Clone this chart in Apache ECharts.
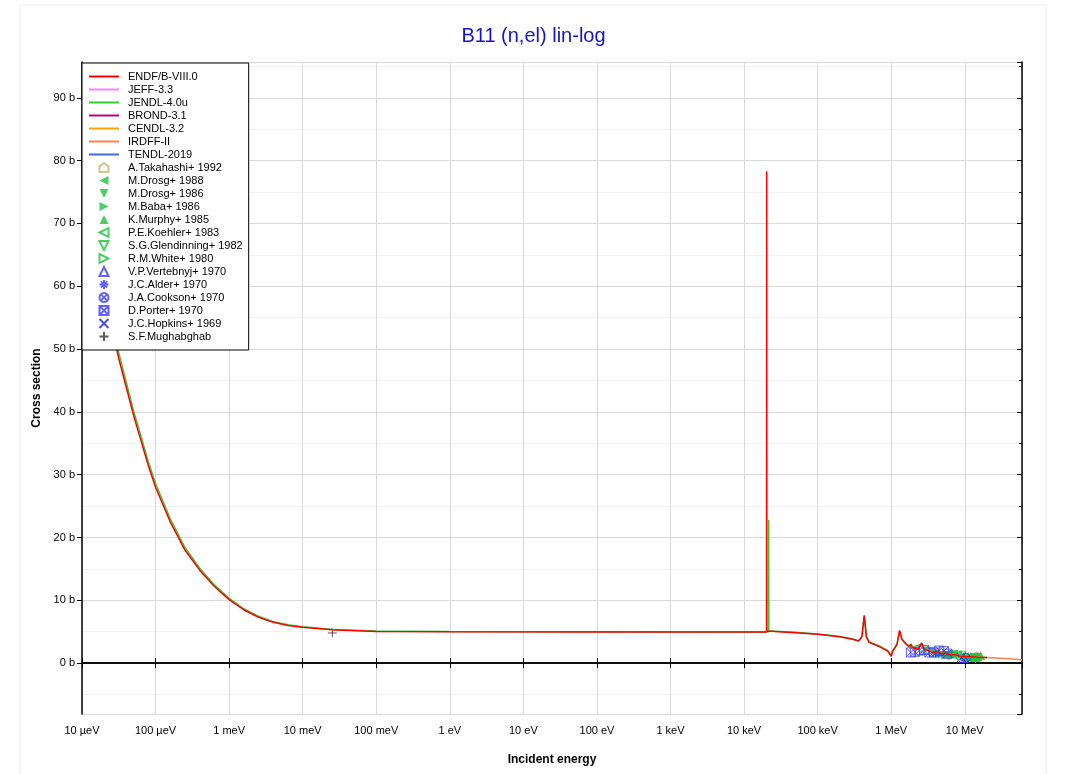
<!DOCTYPE html>
<html>
<head>
<meta charset="utf-8">
<script src="https://cdn.jsdelivr.net/npm/echarts@6/dist/echarts.min.js"></script>
<style>
	html, body { margin: 0; padding: 0; background: #fff; }
	#xs { width: 1067px; height: 774px; }
</style>
</head>
<body>
<div id="xs"></div>
<script>
// x tick labels, one per decade from 1e-5 eV
var xTickLabels = ['10 µeV', '100 µeV', '1 meV', '10 meV', '100 meV', '1 eV', '10 eV', '100 eV', '1 keV', '10 keV', '100 keV', '1 MeV', '10 MeV'];

// evaluated libraries (energy in eV, cross section in b)
var endfE = [1e-5, 1.26e-5, 1.58e-5, 2.0e-5, 2.51e-5, 3.16e-5, 3.98e-5, 5.01e-5, 6.31e-5, 7.94e-5, 1e-4, 1.58e-4, 2.51e-4, 3.98e-4, 6.31e-4, 1e-3, 1.58e-3, 2.51e-3, 3.98e-3, 6.31e-3, 0.01, 0.0251, 0.1, 1, 100, 1e4, 2.02e4, 2.03e4, 2.04e4, 2.1e4, 5e4, 1e5, 2e5, 3e5, 3.6e5, 4.0e5, 4.3e5, 4.6e5, 5e5, 7e5, 9e5, 1.0e6, 1.05e6, 1.2e6, 1.3e6, 1.4e6, 1.6e6, 1.75e6, 1.85e6, 2.0e6, 2.3e6, 2.6e6, 2.8e6, 3.2e6, 3.6e6, 4.2e6, 4.8e6, 5.5e6, 6.5e6, 7.5e6, 8.5e6, 1e7, 1.2e7, 1.5e7, 2e7];
var endfXS = [88, 77, 67, 60, 54, 48.5, 44, 39.5, 35.5, 31.5, 28, 22.5, 18, 14.8, 12.2, 10.1, 8.5, 7.3, 6.5, 6.0, 5.7, 5.3, 5.05, 4.98, 4.95, 4.95, 4.95, 78.3, 5.1, 5.1, 4.85, 4.6, 4.2, 3.8, 3.5, 4.2, 7.6, 4.2, 3.3, 2.6, 1.9, 1.1, 1.9, 3.0, 5.2, 3.8, 3.0, 2.6, 3.0, 2.4, 2.2, 3.2, 2.2, 2.0, 1.7, 1.9, 1.5, 1.6, 1.3, 1.35, 1.1, 1.0, 1.0, 0.95, 0.9];

var jendlE = [1e-5, 1.26e-5, 1.58e-5, 2.0e-5, 2.51e-5, 3.16e-5, 3.98e-5, 5.01e-5, 6.31e-5, 7.94e-5, 1e-4, 1.58e-4, 2.51e-4, 3.98e-4, 6.31e-4, 1e-3, 1.58e-3, 2.51e-3, 3.98e-3, 6.31e-3, 0.01, 0.0251, 0.1, 1, 100, 1e4, 2.15e4, 2.16e4, 2.17e4, 5e4, 1e5, 2e5, 3e5, 3.6e5, 4.0e5, 4.3e5, 4.6e5, 5e5, 7e5, 9e5, 1.0e6, 1.05e6, 1.2e6, 1.3e6, 1.4e6, 1.6e6, 2.0e6, 2.6e6, 3.2e6, 4.2e6, 5.5e6, 7.5e6, 1e7, 1.5e7, 2e7];
var jendlXS = [89.5, 78.5, 68.5, 61.2, 55, 49.4, 44.8, 40.2, 36.2, 32.1, 28.6, 23, 18.4, 15.1, 12.45, 10.3, 8.65, 7.45, 6.6, 6.1, 5.8, 5.35, 5.1, 5.02, 4.98, 4.97, 4.97, 22.8, 5.1, 4.9, 4.65, 4.25, 3.85, 3.55, 4.3, 7.5, 4.3, 3.4, 2.7, 2.0, 1.2, 2.0, 3.0, 5.0, 3.8, 3.0, 2.5, 3.1, 2.0, 1.8, 1.55, 1.3, 1.05, 0.95, 0.9];

var irdffE = [1e7, 1.5e7, 2e7, 3e7, 4e7, 6e7];
var irdffXS = [1.0, 0.95, 0.9, 0.78, 0.68, 0.55];

// libraries hidden under ENDF/B-VIII.0 in the picture
var jeffData = [];
var brondData = [];
var cendlData = [];
var tendlData = [];

// measurements [energy eV, cross section b]
var takahashi = [[1.42e7, 1.0], [1.47e7, 1.1]];
var drosg1988 = [[6e6, 1.4], [7e6, 1.2], [8e6, 1.3], [9e6, 1.1], [1e7, 1.0], [1.1e7, 0.95], [1.2e7, 0.9], [1.3e7, 0.95], [1.4e7, 0.85]];
var drosg1986 = [[6.1e6, 1.2], [7.1e6, 1.35], [1.4e7, 0.8]];
var baba1986 = [[4.5e6, 1.5], [5e6, 1.4], [5.5e6, 1.3], [6e6, 1.35], [6.5e6, 1.25]];
var murphy1985 = [[1e7, 0.9], [1.1e7, 0.95], [1.2e7, 1.05], [1.35e7, 0.9], [1.5e7, 1.0], [1.65e7, 1.2]];
var koehler1983 = [[2.9e6, 1.9], [3.2e6, 1.7]];
var glendinning1982 = [[8e6, 1.2], [9e6, 1.1], [1.4e7, 0.8]];
var white1980 = [[7e6, 1.3]];
var vertebnyj1970 = [[9.6e6, 0.8]];
var alder1970 = [[4.0e6, 1.6]];
var cookson1970 = [[1.04e7, 0.85]];
var porter1970 = [[1.85e6, 1.7], [2.1e6, 1.8], [2.4e6, 2.0], [2.8e6, 2.1], [3.3e6, 1.7], [3.8e6, 1.7], [4.5e6, 2.0], [5.2e6, 1.9], [5.8e6, 1.5]];
var hopkins1969 = [[9e6, 0.9]];
var mughabghab = [[0.0253, 4.8]];

function zip(e, v) {
	var out = [];
	for (var i = 0; i < e.length; i++) out.push([e[i], v[i]]);
	return out;
}

function libLine(name, color, data, z) {
	return {
		name: name,
		type: 'line',
		data: data,
		symbol: 'none',
		showSymbol: false,
		z: z,
		lineStyle: { color: color, width: 1.5 },
		itemStyle: { color: color }
	};
}

function points(name, symbol, color, hollow, data) {
	return {
		name: name,
		type: 'scatter',
		data: data,
		symbol: symbol,
		symbolSize: 9,
		z: 2,
		itemStyle: hollow
			? { color: 'transparent', borderColor: color, borderWidth: 1 }
			: { color: color }
	};
}

function crossSection() {
	var chartDom = document.getElementById('xs');
	var myChart = echarts.init(chartDom);
	var option;

	var green = '#1ec23c';
	var blue = '#3a3aff';

	var fontFamily = 'Liberation Sans, Arial, sans-serif';

	var libNames = ['ENDF/B-VIII.0', 'JEFF-3.3', 'JENDL-4.0u', 'BROND-3.1', 'CENDL-3.2', 'IRDFF-II', 'TENDL-2019'];
	var expNames = ['A.Takahashi+ 1992', 'M.Drosg+ 1988', 'M.Drosg+ 1986', 'M.Baba+ 1986', 'K.Murphy+ 1985',
		'P.E.Koehler+ 1983', 'S.G.Glendinning+ 1982', 'R.M.White+ 1980', 'V.P.Vertebnyj+ 1970',
		'J.C.Alder+ 1970', 'J.A.Cookson+ 1970', 'D.Porter+ 1970', 'J.C.Hopkins+ 1969', 'S.F.Mughabghab'];

	// line entries: hide the default circle drawn on the legend line
	var legendData = libNames.map(function (n) {
		return { name: n, itemStyle: { opacity: 0 } };
	}).concat(expNames);

	option = {
		animation: false,
		backgroundColor: '#fff',
		textStyle: { fontFamily: fontFamily },
		title: {
			text: 'B11 (n,el) lin-log',
			left: 'center',
			top: 21,
			textStyle: { color: '#1414c8', fontSize: 20, fontWeight: 'normal', fontFamily: fontFamily }
		},
		graphic: [{
			type: 'rect',
			shape: { x: 20, y: 5, width: 1026, height: 790 },
			style: { fill: 'none', stroke: '#ececec', lineWidth: 1 },
			z: -1
		}],
		grid: { left: 82, right: 45, top: 62, bottom: 60 },
		legend: {
			orient: 'vertical',
			left: 82,
			top: 63,
			z: 10,
			padding: [7, 6, 7, 6],
			itemWidth: 30,
			itemHeight: 9,
			itemGap: 0,
			backgroundColor: '#fff',
			borderColor: '#000',
			borderWidth: 1,
			borderRadius: 0,
			textStyle: { fontSize: 11, lineHeight: 13, color: '#000', fontFamily: fontFamily, padding: [0, 0, 0, 4] },
			data: legendData
		},
		xAxis: [
			{
				type: 'log',
				logBase: 10,
				min: 1e-5,
				max: 6e7,
				interval: 1,
				name: 'Incident energy',
				nameLocation: 'middle',
				nameGap: 40,
				nameTextStyle: { fontWeight: 'bold', fontSize: 12, color: '#000' },
				axisLine: { show: true, lineStyle: { color: '#000', width: 1.5 } },
				axisTick: { show: true, inside: true, length: 5, lineStyle: { color: '#000' } },
				axisLabel: {
					color: '#000',
					fontSize: 11,
					margin: 11,
					showMaxLabel: false,
					formatter: function (v) {
						return xTickLabels[Math.round(Math.log10(v)) + 5] || '';
					}
				},
				splitLine: { show: true, lineStyle: { color: '#d9d9d9' } }
			},
			{
				type: 'log',
				logBase: 10,
				min: 1e-5,
				max: 6e7,
				interval: 1,
				position: 'top',
				axisLine: { show: true, lineStyle: { color: '#000', width: 1.5 } },
				axisTick: { show: true, inside: true, length: 5, lineStyle: { color: '#000' } },
				axisLabel: { show: false },
				splitLine: { show: false }
			}
		],
		yAxis: [
			{
				type: 'value',
				min: -8.1,
				max: 95.7,
				splitNumber: 10,
				name: 'Cross section',
				nameLocation: 'middle',
				nameGap: 38,
				nameTextStyle: { fontWeight: 'bold', fontSize: 12, color: '#000' },
				axisLine: { show: true, lineStyle: { color: '#000', width: 1.5 } },
				axisTick: { show: true, length: 5, lineStyle: { color: '#000' } },
				axisLabel: {
					color: '#000',
					fontSize: 11,
					margin: 7,
					showMinLabel: false,
					showMaxLabel: false,
					formatter: function (v) { return v + ' b'; }
				},
				splitLine: { show: true, lineStyle: { color: '#d9d9d9' } },
				minorTick: { show: false, splitNumber: 2 },
				minorSplitLine: { show: true, lineStyle: { color: '#f3f3f3' } }
			},
			{
				type: 'value',
				min: -8.1,
				max: 95.7,
				splitNumber: 10,
				position: 'right',
				axisLine: { show: true, lineStyle: { color: '#000', width: 1.5 } },
				axisTick: { show: true, inside: true, length: 5, lineStyle: { color: '#000' } },
				minorTick: { show: true, splitNumber: 2, length: 3, lineStyle: { color: '#000' } },
				axisLabel: { show: false },
				splitLine: { show: false }
			}
		],
		series: [
			libLine('ENDF/B-VIII.0', '#ff0000', zip(endfE, endfXS), 5),
			libLine('JEFF-3.3', '#ff80ff', jeffData, 3),
			libLine('JENDL-4.0u', '#33cc33', zip(jendlE, jendlXS), 4),
			libLine('BROND-3.1', '#c0007f', brondData, 3),
			libLine('CENDL-3.2', '#ffa500', cendlData, 3),
			libLine('IRDFF-II', '#ff7f50', zip(irdffE, irdffXS), 3),
			libLine('TENDL-2019', '#4169e1', tendlData, 3),
			points('A.Takahashi+ 1992', 'path://M0,10 L0,4 L5,0 L10,4 L10,10 Z', '#c8b27a', true, takahashi),
			points('M.Drosg+ 1988', 'path://M0,5 L10,0 L10,10 Z', green, false, drosg1988),
			points('M.Drosg+ 1986', 'path://M0,0 L10,0 L5,10 Z', green, false, drosg1986),
			points('M.Baba+ 1986', 'path://M0,0 L10,5 L0,10 Z', green, false, baba1986),
			points('K.Murphy+ 1985', 'path://M5,0 L10,10 L0,10 Z', green, false, murphy1985),
			points('P.E.Koehler+ 1983', 'path://M0,5 L10,0 L10,10 Z', green, true, koehler1983),
			points('S.G.Glendinning+ 1982', 'path://M0,0 L10,0 L5,10 Z', green, true, glendinning1982),
			points('R.M.White+ 1980', 'path://M0,0 L10,5 L0,10 Z', green, true, white1980),
			points('V.P.Vertebnyj+ 1970', 'path://M5,0 L10,10 L0,10 Z', blue, true, vertebnyj1970),
			points('J.C.Alder+ 1970', 'path://M5,0 L5,10 M0,5 L10,5 M1.5,1.5 L8.5,8.5 M8.5,1.5 L1.5,8.5', blue, true, alder1970),
			points('J.A.Cookson+ 1970', 'path://M10,5 A5,5 0 1 1 0,5 A5,5 0 1 1 10,5 Z M1.5,1.5 L8.5,8.5 M8.5,1.5 L1.5,8.5', blue, true, cookson1970),
			points('D.Porter+ 1970', 'path://M0,0 L10,0 L10,10 L0,10 Z M0,0 L10,10 M10,0 L0,10', blue, true, porter1970),
			points('J.C.Hopkins+ 1969', 'path://M0,0 L10,10 M10,0 L0,10', '#2020c0', true, hopkins1969),
			points('S.F.Mughabghab', 'path://M5,0 L5,10 M0,5 L10,5', '#333333', true, mughabghab)
		]
	};

	option && myChart.setOption(option);
}

crossSection();
</script>
</body>
</html>
